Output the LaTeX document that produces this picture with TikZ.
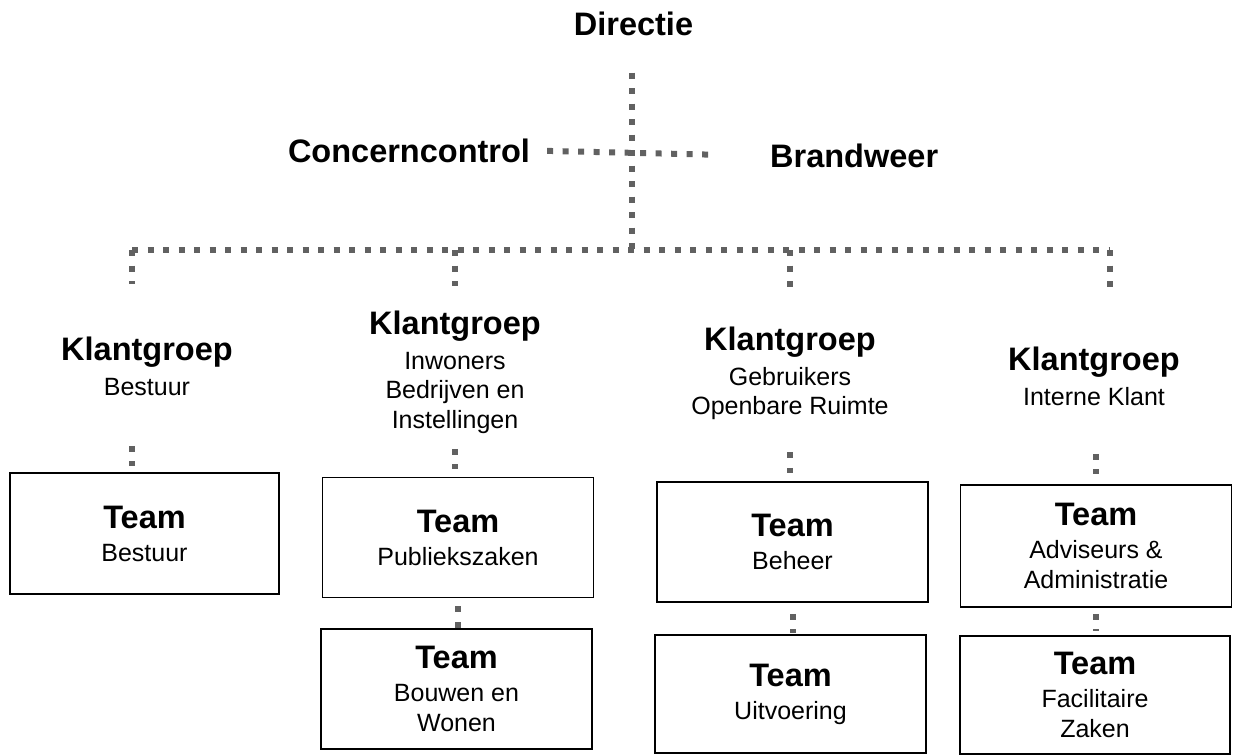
\documentclass[tikz,border=0pt]{standalone}
\usepackage{fontspec}
\setmainfont{Liberation Sans}
\newcommand\ttlfont{\fontsize{32.5}{35}\selectfont\bfseries}
\newcommand\mysubfont{\fontsize{25}{29.5}\selectfont}
\begin{document}
\begin{tikzpicture}[x=1pt,y=-1pt,
  title/.style={font=\ttlfont, inner sep=0pt},
  kg/.style={font=\mysubfont, align=center, inner sep=0pt},
  teambox/.style={draw=black, line width=1.5pt, minimum width=271pt, minimum height=120pt,
    inner sep=0pt, font=\mysubfont, align=center},
  link/.style={draw=black!62, line width=6pt, dash pattern=on 6pt off 9.5pt}]
\useasboundingbox (0,0) rectangle (1237,755);

% top level
\node[title] (dir) at (633.5,23.5) {Directie};
\node[title] (cc) at (409,150.5) {Concerncontrol};
\node[title, anchor=west] (bw) at (770,156) {Brandweer};

% Klantgroepen
\node[kg] (kg1) at (147,366.5) {{\ttlfont Klantgroep}\\[5pt]Bestuur};
\node[kg] (kg2) at (455,372.5) {{\ttlfont Klantgroep}\\[5pt]Inwoners\\Bedrijven en\\Instellingen};
\node[kg] (kg3) at (790,373.8) {{\ttlfont Klantgroep}\\[5pt]Gebruikers\\Openbare Ruimte};
\node[kg] (kg4) at (1094,376.5) {{\ttlfont Klantgroep}\\[5pt]Interne Klant};

% Teams
\node[teambox, minimum width=269pt, minimum height=121pt] (b1) at (144.5,533.5) {{\ttlfont Team}\\[3.5pt]Bestuur};
\node[teambox] (b2) at (458,537.5) {{\ttlfont Team}\\[3.5pt]Publiekszaken};
\node[teambox] (b3) at (792.5,542) {{\ttlfont Team}\\[3.5pt]Beheer};
\node[teambox, minimum height=122pt] (b4) at (1096,546) {{\ttlfont Team}\\[3.5pt]Adviseurs \&\\Administratie};
\node[teambox] (b5) at (456.5,689) {{\ttlfont Team}\\[3.5pt]Bouwen en\\Wonen};
\node[teambox, minimum height=118pt] (b6) at (790.5,694) {{\ttlfont Team}\\[3.5pt]Uitvoering};
\node[teambox, minimum width=270pt, minimum height=118pt] (b7) at (1095,695) {{\ttlfont Team}\\[3.5pt]Facilitaire\\Zaken};

% junction coordinates
\coordinate (j) at (632,250);
\coordinate (jL) at (132,250);
\coordinate (jR) at (1110,250);

% connectors
\draw[link, shorten <=37pt] (dir.south -| j) -- (j);
\draw[link, shorten <=17pt, shorten >=58pt] (cc.east) -- (bw.west);
\draw[link] (jL) -- (jR);
\draw[link, shorten >=53pt] (jL) -- (jL |- kg1.north);
\draw[link, shorten >=25pt] (kg2.north |- j) -- (kg2.north);
\draw[link, shorten >=36pt] (kg3.north |- j) -- (kg3.north);
\draw[link, shorten >=55pt] (jR) -- (jR |- kg4.north);

\draw[link, shorten <=50pt, shorten >=6.5pt] (jL |- kg1.south) -- (jL |- b1.north);
\draw[link, shorten <=15pt, shorten >=7.5pt] (kg2.south) -- (kg2.south |- b2.north);
\draw[link, shorten <=32pt, shorten >=8.5pt] (kg3.south) -- (kg3.south |- b3.north);
\draw[link, shorten <=48pt, shorten >=10.5pt] (b4.north |- kg4.south) -- (b4.north);

\draw[link, shorten <=8pt] (b2.south) -- (b2.south |- b5.north);
\draw[link, shorten <=11pt, shorten >=1pt] (b3.south) -- (b3.south |- b6.north);
\draw[link, shorten <=6pt, shorten >=4pt] (b4.south) -- (b4.south |- b7.north);
\end{tikzpicture}
\end{document}
